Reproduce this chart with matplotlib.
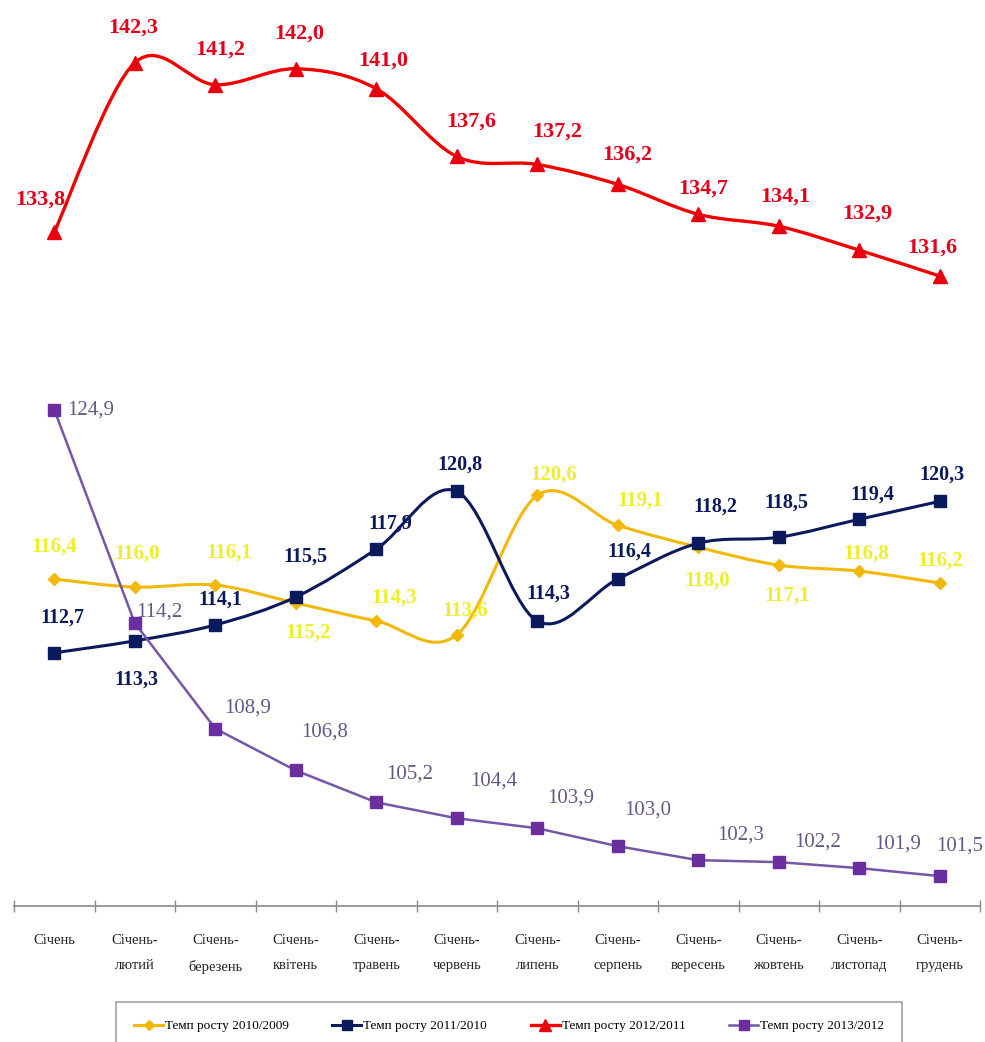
import numpy as np
import matplotlib
matplotlib.use('Agg')
import matplotlib.pyplot as plt
from matplotlib.path import Path
from matplotlib.patches import PathPatch
from matplotlib.lines import Line2D

plt.rcParams['font.family'] = ['Liberation Serif', 'DejaVu Serif']

categories = ['Січень', 'Січень-\nлютий', 'Січень-\nберезень', 'Січень-\nквітень',
              'Січень-\nтравень', 'Січень-\nчервень', 'Січень-\nлипень', 'Січень-\nсерпень',
              'Січень-\nвересень', 'Січень-\nжовтень', 'Січень-\nлистопад', 'Січень-\nгрудень']

names = ['Темп росту 2010/2009', 'Темп росту 2011/2010',
         'Темп росту 2012/2011', 'Темп росту 2013/2012']

rate_2010 = [116.4, 116.0, 116.1, 115.2, 114.3, 113.6, 120.6, 119.1, 118.0, 117.1, 116.8, 116.2]
rate_2011 = [112.7, 113.3, 114.1, 115.5, 117.9, 120.8, 114.3, 116.4, 118.2, 118.5, 119.4, 120.3]
rate_2012 = [133.8, 142.3, 141.2, 142.0, 141.0, 137.6, 137.2, 136.2, 134.7, 134.1, 132.9, 131.6]
rate_2013 = [124.9, 114.2, 108.9, 106.8, 105.2, 104.4, 103.9, 103.0, 102.3, 102.2, 101.9, 101.5]

# label offsets in pixels (dx, dy), dy up
off_2010 = [(0, 32), (2, 33), (14, 32), (12, -30), (18, 23), (8, 24),
            (16, 21), (22, 25), (9, -33), (8, -30), (7, 18), (0, 22)]
off_2011 = [(8, 35), (2, -39), (5, 25), (10, 40), (14, 26), (3, 27),
            (11, 27), (12, 27), (17, 37), (8, 35), (13, 25), (2, 27)]
off_2012 = [(-14, 33), (-1, 35), (5, 35), (4, 35), (7, 28), (15, 35),
            (20, 33), (10, 30), (5, 26), (7, 30), (8, 37), (-7, 28)]
off_2013 = [(36, 0), (25, 11), (32, 21), (29, 38), (33, 28), (37, 37),
            (33, 30), (30, 36), (42, 25), (39, 20), (38, 24), (20, 30)]


def smooth_path(xs, ys):
    # excel-like smoothed line: bezier segments, catmull-rom control points
    pts = np.column_stack([xs, ys]).astype(float)
    n = len(pts)
    verts = [pts[0]]
    codes = [Path.MOVETO]
    for i in range(n - 1):
        p0 = pts[max(i - 1, 0)]
        p1 = pts[i]
        p2 = pts[i + 1]
        p3 = pts[min(i + 2, n - 1)]
        verts += [p1 + (p2 - p0) / 6, p2 - (p3 - p1) / 6, p2]
        codes += [Path.CURVE4] * 3
    return Path(verts, codes)


def fmt(v):
    return ('%.1f' % v).replace('.', ',')


fig = plt.figure(figsize=(9.85, 10.42), dpi=100)
ax = fig.add_axes([14 / 985, 136 / 1042, 966 / 985, 906 / 1042])
ax.set_xlim(-0.5, 11.5)
ax.set_ylim(100, 145.45)

x = np.arange(len(categories))

# values, line colour, marker, marker size, marker colour, line width,
# label offsets, label colour, weight, size, smoothed
series = [
    (rate_2010, '#F2B90C', 'D', 6.5, '#F2B90C', 2.2, off_2010, '#EEEE2A', 'bold', 15, True),
    (rate_2011, '#0B1A5C', 's', 8.5, '#0B1A5C', 2.2, off_2011, '#0B1A5C', 'bold', 14.5, True),
    (rate_2012, '#F00000', '^', 10, '#E8000E', 2.4, off_2012, '#E3001B', 'bold', 16, True),
    (rate_2013, '#7656A6', 's', 8, '#6A2E9E', 1.8, off_2013, '#5D5B87', 'normal', 15, False),
]

handles = []
for vals, lc, mk, ms, mc, lw, offs, tc, fw, fs, smooth in series:
    if smooth:
        ax.add_patch(PathPatch(smooth_path(x, vals), facecolor='none', edgecolor=lc,
                               linewidth=lw, capstyle='round', joinstyle='round'))
    else:
        ax.plot(x, vals, color=lc, linewidth=lw)
    ax.plot(x, vals, linestyle='none', marker=mk, markersize=ms, color=mc)
    handles.append(Line2D([], [], color=lc, linewidth=lw, marker=mk,
                          markersize=ms * 0.85, markerfacecolor=mc, markeredgecolor=mc))

for vals, lc, mk, ms, mc, lw, offs, tc, fw, fs, smooth in series:
    for i, v in enumerate(vals):
        ax.annotate(fmt(v), (i, v), xytext=offs[i], textcoords='offset pixels',
                    ha='center', va='center', fontsize=fs, fontweight=fw, color=tc)

for side in ['top', 'left', 'right']:
    ax.spines[side].set_visible(False)
ax.spines['bottom'].set_color('#8a8a8a')
ax.spines['bottom'].set_linewidth(1.2)

ax.set_yticks([])
ax.set_xticks(x)
ax.set_xticklabels(categories, fontsize=10.5, linespacing=2.2, color='#222222')
ax.set_xticks(np.arange(-0.5, 12, 1), minor=True)
ax.tick_params(axis='x', which='major', length=0, pad=20)
ax.tick_params(axis='x', which='minor', length=8, direction='inout',
               color='#8a8a8a', width=1)

leg = fig.legend(handles, names, loc='upper center', bbox_to_anchor=(509 / 985, 1 - 995 / 1042),
                 ncol=4, frameon=True, fancybox=False, edgecolor='#8a8a8a',
                 fontsize=9.5, handlelength=2.2, handletextpad=0.15,
                 columnspacing=3.3, borderpad=1.4)
leg.get_frame().set_linewidth(1.2)

fig.savefig('out.png', dpi=100)
plt.close()
